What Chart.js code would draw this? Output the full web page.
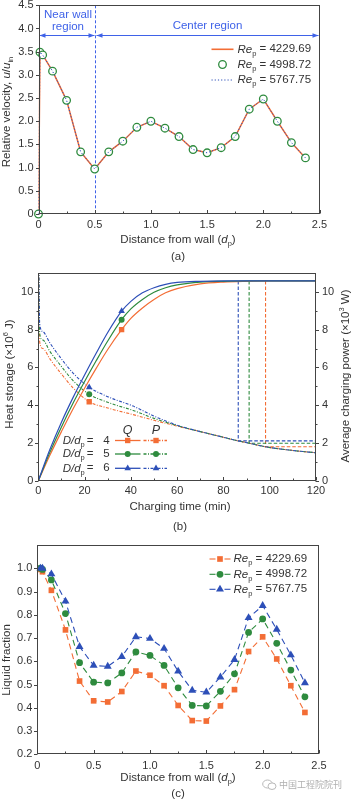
<!DOCTYPE html>
<html>
<head>
<meta charset="utf-8">
<title>Packed bed charging</title>
<script src="https://cdn.jsdelivr.net/npm/chart.js@4.4.1/dist/chart.umd.min.js"></script>
<style>
  body { margin: 0; background: #fff; width: 352px; height: 800px; overflow: hidden; position: relative; }
  canvas { position: absolute; left: 0; }
  .wm { position: absolute; left: 262px; top: 778px; font: 9px "Noto Sans CJK SC", sans-serif; color: #b0b0b0; display: flex; align-items: center; gap: 2px; }
</style>
</head>
<body>
<canvas id="chartA" width="352" height="262" style="top:0"></canvas>
<canvas id="chartB" width="352" height="273" style="top:262px"></canvas>
<canvas id="chartC" width="352" height="265" style="top:535px"></canvas>
<div class="wm">
  <svg width="15" height="12" viewBox="0 0 15 12"><ellipse cx="5.5" cy="5" rx="4.8" ry="4" fill="none" stroke="#b8b8b8"/><ellipse cx="10" cy="7.2" rx="4" ry="3.3" fill="#fff" stroke="#b8b8b8"/></svg>
  <span>中国工程院院刊</span>
</div>
<script>
const FONT = '"Liberation Sans", Arial, Helvetica, sans-serif';
const INK = '#333';
const AXIS = '#444';
const ORANGE = '#F36D35';
const GREEN = '#2E8B3E';
const BLUE = '#2D4FB8';
const NOTE = '#3F62E8';

// (a) relative velocity vs distance from wall
const distA = [0, 0.013, 0.037, 0.125, 0.25, 0.375, 0.5, 0.625, 0.75, 0.875, 1.0, 1.125, 1.25, 1.375, 1.5, 1.625, 1.75, 1.875, 2.0, 2.125, 2.25, 2.375];
const velRe4229 = [0, 3.49, 3.43, 3.08, 2.45, 1.34, 0.97, 1.34, 1.57, 1.87, 2.0, 1.85, 1.67, 1.39, 1.32, 1.43, 1.67, 2.26, 2.48, 2.0, 1.54, 1.21];
const velRe4998 = [0, 3.49, 3.43, 3.08, 2.45, 1.34, 0.97, 1.34, 1.57, 1.87, 2.0, 1.85, 1.67, 1.39, 1.32, 1.43, 1.67, 2.26, 2.48, 2.0, 1.54, 1.21];
const velRe5767 = [0, 3.49, 3.43, 3.08, 2.45, 1.34, 0.97, 1.34, 1.57, 1.87, 2.0, 1.85, 1.67, 1.39, 1.32, 1.43, 1.67, 2.26, 2.48, 2.0, 1.54, 1.21];
const reLabels = ['4229.69', '4998.72', '5767.75'];
const distTicks = [0, 0.5, 1.0, 1.5, 2.0, 2.5];
const distMinor = [0.25, 0.75, 1.25, 1.75, 2.25];
const velTicks = [0, 0.5, 1.0, 1.5, 2.0, 2.5, 3.0, 3.5, 4.0, 4.5];
const nearWallEdge = 0.5;
const regionArrowY = 3.87;

// (b) heat storage Q and average charging power P vs charging time
const timeQ = [0, 5, 10, 15, 20, 25, 30, 36, 40, 45, 50, 55, 60, 70, 80, 90, 100, 120];
const qD4 = [0, 1.35, 2.6, 3.8, 4.9, 5.95, 6.95, 8.0, 8.6, 9.15, 9.6, 9.95, 10.17, 10.42, 10.52, 10.56, 10.58, 10.58];
const qD5 = [0, 1.5, 2.85, 4.1, 5.25, 6.35, 7.4, 8.53, 9.1, 9.6, 9.98, 10.22, 10.37, 10.52, 10.56, 10.58, 10.58, 10.58];
const qD6 = [0, 1.65, 3.1, 4.4, 5.6, 6.75, 7.85, 8.98, 9.5, 9.95, 10.22, 10.4, 10.5, 10.56, 10.58, 10.58, 10.58, 10.58];
const timeP = [0.15, 0.6, 2, 5, 10, 15, 22, 30, 41, 50, 61, 70, 80, 86, 91, 98, 110, 120];
const pD4 = [11.5, 7.35, 7.0, 6.45, 5.65, 4.92, 4.18, 3.85, 3.5, 3.2, 2.86, 2.6, 2.3, 2.12, 1.99, 1.8, 1.6, 1.48];
const pD5 = [11.5, 7.8, 7.45, 6.85, 6.05, 5.3, 4.58, 4.15, 3.72, 3.3, 2.88, 2.6, 2.3, 2.12, 1.99, 1.8, 1.6, 1.48];
const pD6 = [11.5, 8.3, 7.9, 7.3, 6.45, 5.7, 4.95, 4.45, 3.95, 3.42, 2.9, 2.6, 2.3, 2.12, 1.99, 1.8, 1.6, 1.48];
const qMarkTime = 36;
const pMarkTime = 22;
const ratioLabels = ['4', '5', '6'];
const endTime = [98.2, 91.1, 86.4];
const endPower = [1.8, 1.98, 2.11];
const qFull = 10.58;
const timeTicks = [0, 20, 40, 60, 80, 100, 120];
const timeMinor = [10, 30, 50, 70, 90, 110];
const storageTicks = [0, 2, 4, 6, 8, 10];
const storageMinor = [1, 3, 5, 7, 9];

// (c) liquid fraction vs distance from wall
const distC = [0.028, 0.046, 0.125, 0.25, 0.375, 0.5, 0.625, 0.75, 0.875, 1.0, 1.125, 1.25, 1.375, 1.5, 1.625, 1.75, 1.875, 2.0, 2.125, 2.25, 2.375];
const lfRe4229 = [0.995, 0.985, 0.905, 0.735, 0.515, 0.43, 0.425, 0.47, 0.558, 0.54, 0.495, 0.41, 0.345, 0.343, 0.408, 0.478, 0.642, 0.705, 0.61, 0.495, 0.38];
const lfRe4998 = [1.0, 0.995, 0.95, 0.805, 0.594, 0.51, 0.507, 0.55, 0.64, 0.625, 0.582, 0.486, 0.41, 0.408, 0.471, 0.546, 0.724, 0.782, 0.677, 0.562, 0.447];
const lfRe5767 = [1.0, 1.0, 0.975, 0.858, 0.663, 0.582, 0.578, 0.62, 0.705, 0.698, 0.655, 0.557, 0.475, 0.467, 0.532, 0.607, 0.787, 0.839, 0.737, 0.627, 0.507];
const lfTicks = [0.2, 0.3, 0.4, 0.5, 0.6, 0.7, 0.8, 0.9, 1.0];

const pairs = (xs, ys) => xs.map((x, i) => ({ x: x, y: ys[i] }));
const fmt1 = v => (v === 0 ? '0' : v.toFixed(1));

function rich(ctx, parts, x, y, align, size) {
  const fontFor = p => (p.i ? 'italic ' : '') + ((p.sub || p.sup) ? size * 0.65 : size) + 'px ' + FONT;
  let w = 0;
  parts.forEach(p => { ctx.font = fontFor(p); w += ctx.measureText(p.t).width; });
  let cx = align === 'center' ? x - w / 2 : align === 'right' ? x - w : x;
  ctx.textAlign = 'left';
  ctx.textBaseline = 'middle';
  parts.forEach(p => {
    ctx.font = fontFor(p);
    const dy = p.sub ? size * 0.38 : p.sup ? -size * 0.38 : 0;
    ctx.fillText(p.t, cx, y + dy);
    cx += ctx.measureText(p.t).width;
  });
}

function marker(ctx, style, x, y, r) {
  ctx.beginPath();
  if (style === 'rect') {
    const h = r * Math.SQRT1_2;
    ctx.rect(x - h, y - h, 2 * h, 2 * h);
  } else if (style === 'triangle') {
    for (let k = 0; k < 3; k++) {
      const ang = k * 2 * Math.PI / 3;
      ctx.lineTo(x + Math.sin(ang) * r, y - Math.cos(ang) * r);
    }
    ctx.closePath();
  } else {
    ctx.arc(x, y, r, 0, 2 * Math.PI);
  }
  ctx.fill();
}

function seg(ctx, x1, y1, x2, y2, dash) {
  ctx.setLineDash(dash || []);
  ctx.beginPath();
  ctx.moveTo(x1, y1);
  ctx.lineTo(x2, y2);
  ctx.stroke();
  ctx.setLineDash([]);
}

// box around the plot, x ticks inside, y ticks outside
function frame(minor) {
  return {
    id: 'frame',
    afterDatasetsDraw(chart) {
      const { ctx, chartArea: a } = chart;
      ctx.save();
      ctx.strokeStyle = AXIS;
      ctx.lineWidth = 1;
      const L = Math.round(a.left) + 0.5, R = Math.round(a.right) - 0.5;
      const T = Math.round(a.top) + 0.5, B = Math.round(a.bottom) - 0.5;
      ctx.strokeRect(L, T, R - L, B - T);
      Object.values(chart.scales).forEach(s => {
        const marks = s.ticks.map(t => [t.value, 3.5]).concat((minor[s.id] || []).map(v => [v, 2]));
        marks.forEach(([v, len]) => {
          const p = Math.round(s.getPixelForValue(v)) + 0.5;
          if (s.isHorizontal()) seg(ctx, p, B, p, B - len);
          else if (s.position === 'left') seg(ctx, L, p, L - len, p);
          else seg(ctx, R, p, R + len, p);
        });
      });
      ctx.restore();
    }
  };
}

function titles(items) {
  return {
    id: 'titles',
    afterDraw(chart) {
      const ctx = chart.ctx;
      ctx.save();
      ctx.fillStyle = INK;
      items.forEach(it => {
        ctx.save();
        ctx.translate(it.x, it.y);
        if (it.rot) ctx.rotate(-Math.PI / 2);
        rich(ctx, it.parts, 0, 0, 'center', it.size || 11.5);
        ctx.restore();
      });
      ctx.restore();
    }
  };
}

function axisFit(size) {
  return s => {
    if (s.isHorizontal()) s.height = size; else s.width = size;
    s.paddingTop = 0; s.paddingBottom = 0; s.paddingLeft = 0; s.paddingRight = 0;
  };
}

function linearAxis(min, max, tickValues, fit, pad, fmt, position) {
  return {
    type: 'linear',
    position: position,
    min: min,
    max: max,
    bounds: 'data',
    afterBuildTicks: s => { s.ticks = tickValues.map(v => ({ value: v })); },
    afterFit: axisFit(fit),
    grid: { display: false, drawTicks: false },
    border: { display: false },
    ticks: { autoSkip: false, maxRotation: 0, padding: pad, color: INK, font: { family: FONT, size: 11 }, callback: fmt }
  };
}

const baseOptions = (padding, scales) => ({
  responsive: false,
  animation: false,
  events: [],
  layout: { padding: padding },
  plugins: { legend: { display: false }, tooltip: { enabled: false } },
  scales: scales
});

// ---------- (a) ----------
const regionNotes = {
  id: 'regionNotes',
  beforeDatasetsDraw(chart) {
    const { ctx, chartArea: a, scales: { x, y } } = chart;
    const xe = Math.round(x.getPixelForValue(nearWallEdge)) + 0.5;
    const ya = Math.round(y.getPixelForValue(regionArrowY)) + 0.5;
    ctx.save();
    ctx.strokeStyle = NOTE;
    ctx.fillStyle = NOTE;
    ctx.lineWidth = 1;
    seg(ctx, xe, a.top, xe, a.bottom, [3, 2]);
    const head = (px, dir) => {
      ctx.beginPath();
      ctx.moveTo(px, ya);
      ctx.lineTo(px - dir * 6, ya - 2.2);
      ctx.lineTo(px - dir * 6, ya + 2.2);
      ctx.closePath();
      ctx.fill();
    };
    [[a.left + 1, xe - 1], [xe + 1, a.right - 1]].forEach(([p1, p2]) => {
      seg(ctx, p1, ya, p2, ya);
      head(p1, -1);
      head(p2, 1);
    });
    ctx.fillStyle = NOTE;
    rich(ctx, [{ t: 'Near wall' }], (a.left + xe) / 2 + 1, 15, 'center', 11.5);
    rich(ctx, [{ t: 'region' }], (a.left + xe) / 2 + 1, 26.5, 'center', 11.5);
    rich(ctx, [{ t: 'Center region' }], (xe + a.right) / 2, 26, 'center', 11.5);
    ctx.restore();
  },
  afterDraw(chart) {
    const ctx = chart.ctx;
    ctx.save();
    ctx.fillStyle = INK;
    const rows = [49.3, 64.5, 80];
    rows.forEach((ry, i) => {
      if (i === 0) { ctx.strokeStyle = ORANGE; ctx.lineWidth = 1.6; seg(ctx, 211.5, ry, 233.5, ry); }
      if (i === 1) {
        ctx.strokeStyle = GREEN; ctx.lineWidth = 1.3; ctx.fillStyle = '#fff';
        ctx.beginPath(); ctx.arc(222.5, ry, 3.8, 0, 2 * Math.PI); ctx.fill(); ctx.stroke();
        ctx.fillStyle = INK;
      }
      if (i === 2) { ctx.strokeStyle = BLUE; ctx.lineWidth = 1; seg(ctx, 211.5, ry, 233.5, ry, [1.2, 2]); }
      rich(ctx, [{ t: 'Re', i: true }, { t: 'p', sub: true }, { t: ' = ' + reLabels[i] }], 237.5, ry, 'left', 11.5);
    });
    ctx.restore();
  }
};

new Chart(document.getElementById('chartA'), {
  type: 'line',
  data: {
    datasets: [
      { label: 'Re_p = 5767.75', data: pairs(distA, velRe5767), borderColor: BLUE, borderWidth: 1, borderDash: [1.2, 2], pointRadius: 0, tension: 0, order: 0 },
      { label: 'Re_p = 4998.72', data: pairs(distA, velRe4998), showLine: false, pointRadius: 3.8, pointBorderWidth: 1.3, pointBorderColor: GREEN, pointBackgroundColor: '#fff', clip: false, order: 1 },
      { label: 'Re_p = 4229.69', data: pairs(distA, velRe4229), borderColor: ORANGE, borderWidth: 1.5, pointRadius: 0, tension: 0, order: 2 }
    ]
  },
  options: baseOptions({ top: 5, right: 32.5, bottom: 0, left: 0 }, {
    x: linearAxis(0, 2.5, distTicks, 48, 4, fmt1, 'bottom'),
    y: linearAxis(0, 4.5, velTicks, 38.5, 5, fmt1, 'left')
  }),
  plugins: [regionNotes, frame({ x: distMinor }), titles([
    { x: 7, y: 112, rot: true, parts: [{ t: 'Relative velocity, ' }, { t: 'u', i: true }, { t: '/' }, { t: 'u', i: true }, { t: 'in', sub: true }] },
    { x: 178, y: 240, parts: [{ t: 'Distance from wall (' }, { t: 'd', i: true }, { t: 'p', sub: true }, { t: ')' }] },
    { x: 178, y: 257, parts: [{ t: '(a)' }] }
  ])]
});

// ---------- (b) ----------
const ratioColors = [ORANGE, GREEN, BLUE];
const ratioStyles = ['rect', 'circle', 'triangle'];
const ratioRadius = [3.8, 3, 3.8];
const pDash = [3, 1.5, 1, 1.5];

const storageLegend = {
  id: 'storageLegend',
  afterDraw(chart) {
    const ctx = chart.ctx;
    ctx.save();
    ctx.fillStyle = INK;
    rich(ctx, [{ t: 'Q', i: true }], 127.7, 168.5, 'center', 12.5);
    rich(ctx, [{ t: 'P', i: true }], 156, 168.5, 'center', 12.5);
    [178.5, 192, 206.3].forEach((ry, i) => {
      ctx.fillStyle = INK;
      rich(ctx, [{ t: 'D/d', i: true }, { t: 'p', sub: true }], 62.7, ry, 'left', 11.5);
      rich(ctx, [{ t: '=' }], 90, ry, 'center', 11.5);
      rich(ctx, [{ t: ratioLabels[i] }], 106.5, ry, 'center', 11.5);
      ctx.strokeStyle = ratioColors[i];
      ctx.fillStyle = ratioColors[i];
      ctx.lineWidth = 1.3;
      seg(ctx, 115, ry, 140.5, ry);
      seg(ctx, 143.5, ry, 167, ry, pDash);
      marker(ctx, ratioStyles[i], 127.7, ry, ratioRadius[i]);
      marker(ctx, ratioStyles[i], 156, ry, ratioRadius[i]);
    });
    ctx.restore();
  }
};

const qSets = [qD4, qD5, qD6].map((q, i) => ({
  label: 'Q, D/dp = ' + ratioLabels[i],
  data: pairs(timeQ, q),
  yAxisID: 'y',
  borderColor: ratioColors[i],
  backgroundColor: ratioColors[i],
  borderWidth: 1.2,
  cubicInterpolationMode: 'monotone',
  pointStyle: ratioStyles[i],
  pointBorderWidth: 0,
  pointRadius: c => (c.raw && c.raw.x === qMarkTime ? ratioRadius[i] : 0),
  order: 2 - i
}));
const pSets = [pD4, pD5, pD6].map((p, i) => ({
  label: 'P, D/dp = ' + ratioLabels[i],
  data: pairs(timeP, p),
  yAxisID: 'y2',
  borderColor: ratioColors[i],
  backgroundColor: ratioColors[i],
  borderWidth: 1.1,
  borderDash: pDash,
  cubicInterpolationMode: 'monotone',
  pointStyle: ratioStyles[i],
  pointBorderWidth: 0,
  pointRadius: c => (c.raw && c.raw.x === pMarkTime ? ratioRadius[i] : 0),
  order: 5 - i
}));
const endSets = endTime.map((t, i) => ({
  label: 'end of charging, D/dp = ' + ratioLabels[i],
  data: [{ x: t, y: qFull }, { x: t, y: endPower[i] }, { x: 120, y: endPower[i] }],
  yAxisID: 'y',
  borderColor: ratioColors[i],
  borderWidth: 1.1,
  borderDash: [3.5, 2],
  pointRadius: 0,
  tension: 0,
  order: 8 - i
}));

new Chart(document.getElementById('chartB'), {
  type: 'line',
  data: { datasets: qSets.concat(pSets, endSets) },
  options: baseOptions({ top: 11, right: 0, bottom: 0, left: 0 }, {
    x: linearAxis(0, 120, timeTicks, 54.3, 4, v => String(v), 'bottom'),
    y: linearAxis(0, 11, storageTicks, 38.3, 5, v => String(v), 'left'),
    y2: linearAxis(0, 11, storageTicks, 36, 6, v => String(v), 'right')
  }),
  plugins: [frame({ x: timeMinor, y: storageMinor, y2: storageMinor }), storageLegend, titles([
    { x: 10, y: 112, rot: true, parts: [{ t: 'Heat storage (×10' }, { t: '6', sup: true }, { t: ' J)' }] },
    { x: 346, y: 114, rot: true, parts: [{ t: 'Average charging power (×10' }, { t: '3', sup: true }, { t: ' W)' }] },
    { x: 180, y: 245, parts: [{ t: 'Charging time (min)' }] },
    { x: 180, y: 265, parts: [{ t: '(b)' }] }
  ])]
});

// ---------- (c) ----------
const lfSets = [lfRe4229, lfRe4998, lfRe5767].map((v, i) => ({
  label: 'Re_p = ' + reLabels[i],
  data: pairs(distC, v),
  borderColor: ratioColors[i],
  backgroundColor: ratioColors[i],
  borderWidth: 1.1,
  borderDash: [6, 4],
  tension: 0,
  pointStyle: ratioStyles[i],
  pointRadius: [4, 3.4, 4.6][i],
  pointBorderWidth: 0,
  clip: false,
  order: 2 - i
}));

const fractionLegend = {
  id: 'fractionLegend',
  afterDraw(chart) {
    const ctx = chart.ctx;
    ctx.save();
    [24, 39.3, 54.3].forEach((ry, i) => {
      ctx.strokeStyle = ratioColors[i];
      ctx.fillStyle = ratioColors[i];
      ctx.lineWidth = 1.1;
      seg(ctx, 209.5, ry, 215.5, ry);
      seg(ctx, 224.5, ry, 230.5, ry);
      marker(ctx, ratioStyles[i], 220, ry, [4, 3.4, 4.6][i]);
      ctx.fillStyle = INK;
      rich(ctx, [{ t: 'Re', i: true }, { t: 'p', sub: true }, { t: ' = ' + reLabels[i] }], 233.5, ry, 'left', 11.5);
    });
    ctx.restore();
  }
};

new Chart(document.getElementById('chartC'), {
  type: 'line',
  data: { datasets: lfSets },
  options: baseOptions({ top: 10, right: 33, bottom: 0, left: 0 }, {
    x: linearAxis(0, 2.5, distTicks, 45.7, 5, fmt1, 'bottom'),
    y: linearAxis(0.2, 1.1, lfTicks, 37.3, 5, fmt1, 'left')
  }),
  plugins: [frame({ x: distMinor }), fractionLegend, titles([
    { x: 7, y: 125, rot: true, parts: [{ t: 'Liquid fraction' }] },
    { x: 178, y: 243, parts: [{ t: 'Distance from wall (' }, { t: 'd', i: true }, { t: 'p', sub: true }, { t: ')' }] },
    { x: 178, y: 259, parts: [{ t: '(c)' }] }
  ])]
});
</script>
</body>
</html>
